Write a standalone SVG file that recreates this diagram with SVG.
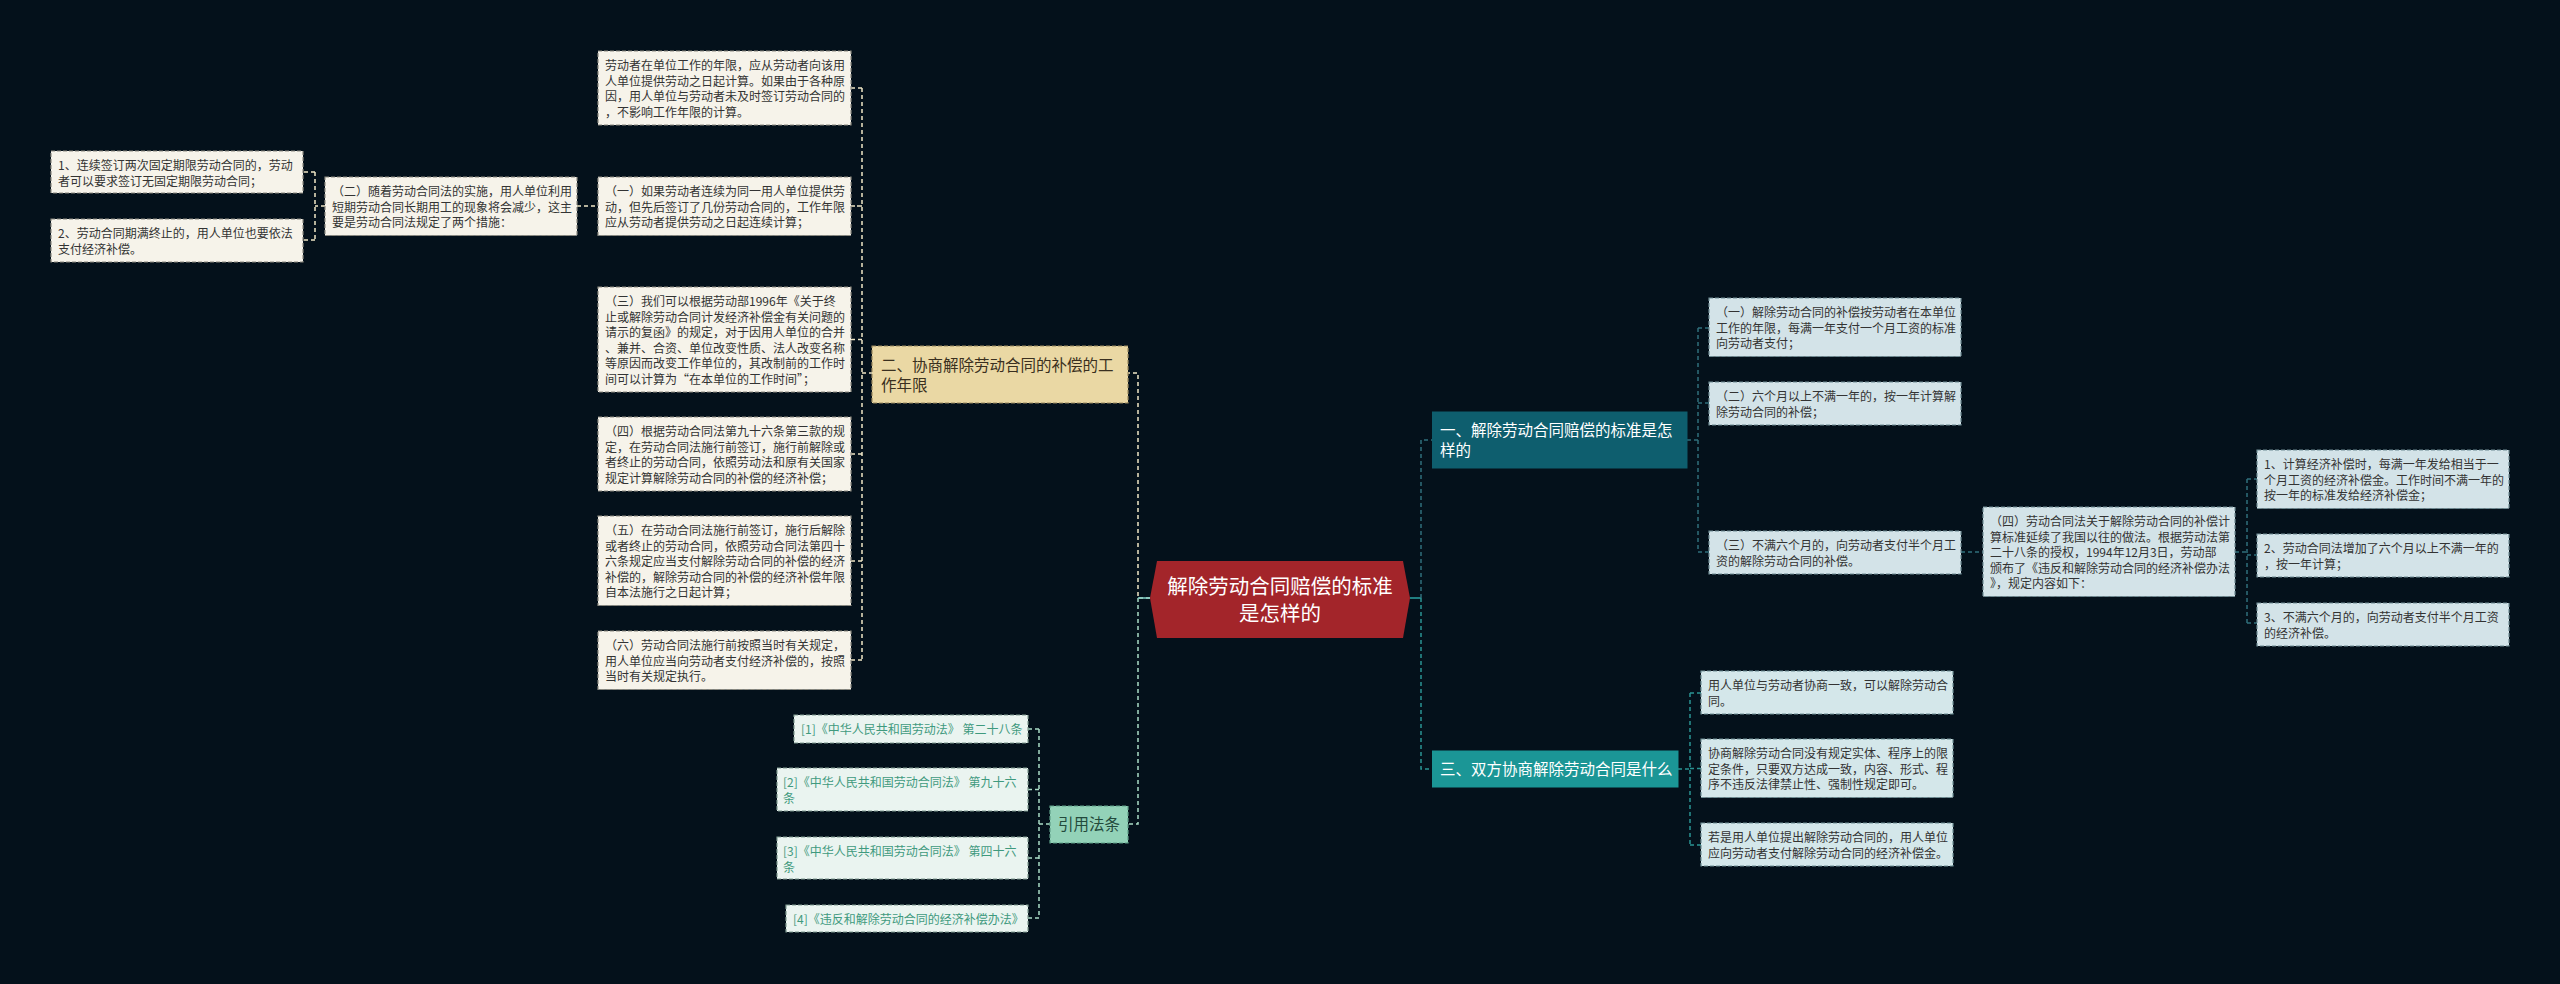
<svg xmlns="http://www.w3.org/2000/svg" width="2560" height="984" viewBox="0 0 2560 984">
<style>
text{font-family:"Noto Sans CJK SC","Microsoft YaHei","Noto Sans",sans-serif;}
.s{font-size:12px;fill:#333;}
.t{font-size:15.5px;}
.cream{fill:#f6f3ea;stroke:#8c8a80;stroke-width:1.2;stroke-dasharray:4 2;}
.tan{fill:#ead8a4;stroke:#9a8a60;stroke-width:1.2;stroke-dasharray:4 2;}
.lb{fill:#d3e3e8;stroke:#6f8c94;stroke-width:1.2;stroke-dasharray:4 2;}
.lc{fill:#d4e7ea;stroke:#6f9096;stroke-width:1.2;stroke-dasharray:4 2;}
.cit{fill:#eaf4f0;stroke:#7f9a90;stroke-width:1.2;stroke-dasharray:4 2;}
.ct{font-size:12px;fill:#3f9a7e;}
.c{fill:none;stroke-width:1.5;stroke-dasharray:4 3;}
.cl{stroke:#efe6c6;}
.cg{stroke:#a9dcc6;}
.cd{stroke:#2f6f7c;}
.cm{stroke:#2a9494;}
</style>
<rect x="0" y="0" width="2560" height="984" fill="#04111b"/>
<g id="connectors">
<path class="c cl" d="M577 206H862M862 88V660M851 88H862M851 206H862M851 339.5H862M851 454H862M851 561H862M851 660H862M862 373H872"/>
<path class="c cl" d="M325 206H315M315 172V240M315 172H303M315 240H303"/>
<path class="c cl" d="M1150 598H1138V373H1128"/>
<path class="c cg" d="M1138 598V824H1128M1050 824H1039M1039 729V918M1039 729H1028M1039 789.5H1028M1039 858H1028M1039 918H1028"/>
<path d="M1138 598H1150" stroke="#7fd0c8" stroke-width="1.5"/>
<path d="M1410 598H1421" stroke="#2aa3a3" stroke-width="1.5"/>
<path class="c cd" d="M1421 598V440H1432.5"/>
<path class="c cm" d="M1421 598V769H1432.5"/>
<path class="c cd" d="M1687 440H1698M1698 328V552M1698 328H1709M1698 403H1709M1698 552H1709M1961 552H1983M2235 552H2247M2247 479V623M2247 479H2257M2247 555H2257M2247 623H2257"/>
<path class="c cm" d="M1678 769H1690M1690 693V845M1690 693H1701M1690 768.5H1701M1690 845H1701"/>
</g>
<g id="root">
<polygon points="1157,561 1403,561 1410,598 1403,638 1157,638 1150,598" fill="#a3252a"/>
<text x="1280" y="594" text-anchor="middle" font-size="20.5" fill="#fff">解除劳动合同赔偿的标准</text>
<text x="1280" y="621" text-anchor="middle" font-size="20.5" fill="#fff">是怎样的</text>
</g>
<g id="n-b2">
<rect class="tan" x="872" y="346" width="256" height="57"/>
<text class="t" fill="#3a3020"><tspan x="881" y="370.5">二、协商解除劳动合同的补偿的工</tspan><tspan x="881" y="390.5">作年限</tspan></text>
</g>
<g id="n-b2a">
<rect class="cream" x="598" y="51" width="253" height="74"/>
<text class="s"><tspan x="605" y="70">劳动者在单位工作的年限，应从劳动者向该用</tspan><tspan x="605" y="85.5">人单位提供劳动之日起计算。如果由于各种原</tspan><tspan x="605" y="101">因，用人单位与劳动者未及时签订劳动合同的</tspan><tspan x="605" y="116.5">，不影响工作年限的计算。</tspan></text>
</g>
<g id="n-b2b">
<rect class="cream" x="598" y="177" width="253" height="58.5"/>
<text class="s"><tspan x="605" y="196">（一）如果劳动者连续为同一用人单位提供劳</tspan><tspan x="605" y="211.5">动，但先后签订了几份劳动合同的，工作年限</tspan><tspan x="605" y="227">应从劳动者提供劳动之日起连续计算；</tspan></text>
</g>
<g id="n-b2c">
<rect class="cream" x="325" y="177" width="252" height="58.5"/>
<text class="s"><tspan x="332" y="196">（二）随着劳动合同法的实施，用人单位利用</tspan><tspan x="332" y="211.5">短期劳动合同长期用工的现象将会减少，这主</tspan><tspan x="332" y="227">要是劳动合同法规定了两个措施：</tspan></text>
</g>
<g id="n-b2c1">
<rect class="cream" x="51" y="151" width="252" height="42"/>
<text class="s"><tspan x="58" y="170">1、连续签订两次固定期限劳动合同的，劳动</tspan><tspan x="58" y="185.5">者可以要求签订无固定期限劳动合同；</tspan></text>
</g>
<g id="n-b2c2">
<rect class="cream" x="51" y="219" width="252" height="43"/>
<text class="s"><tspan x="58" y="238">2、劳动合同期满终止的，用人单位也要依法</tspan><tspan x="58" y="253.5">支付经济补偿。</tspan></text>
</g>
<g id="n-b2d">
<rect class="cream" x="598" y="287" width="253" height="105"/>
<text class="s"><tspan x="605" y="306">（三）我们可以根据劳动部1996年《关于终</tspan><tspan x="605" y="321.5">止或解除劳动合同计发经济补偿金有关问题的</tspan><tspan x="605" y="337">请示的复函》的规定，对于因用人单位的合并</tspan><tspan x="605" y="352.5">、兼并、合资、单位改变性质、法人改变名称</tspan><tspan x="605" y="368">等原因而改变工作单位的，其改制前的工作时</tspan><tspan x="605" y="383.5">间可以计算为“在本单位的工作时间”；</tspan></text>
</g>
<g id="n-b2e">
<rect class="cream" x="598" y="417" width="253" height="74"/>
<text class="s"><tspan x="605" y="436">（四）根据劳动合同法第九十六条第三款的规</tspan><tspan x="605" y="451.5">定，在劳动合同法施行前签订，施行前解除或</tspan><tspan x="605" y="467">者终止的劳动合同，依照劳动法和原有关国家</tspan><tspan x="605" y="482.5">规定计算解除劳动合同的补偿的经济补偿；</tspan></text>
</g>
<g id="n-b2f">
<rect class="cream" x="598" y="516" width="253" height="89.5"/>
<text class="s"><tspan x="605" y="535">（五）在劳动合同法施行前签订，施行后解除</tspan><tspan x="605" y="550.5">或者终止的劳动合同，依照劳动合同法第四十</tspan><tspan x="605" y="566">六条规定应当支付解除劳动合同的补偿的经济</tspan><tspan x="605" y="581.5">补偿的，解除劳动合同的补偿的经济补偿年限</tspan><tspan x="605" y="597">自本法施行之日起计算；</tspan></text>
</g>
<g id="n-b2g">
<rect class="cream" x="598" y="631" width="253" height="58.5"/>
<text class="s"><tspan x="605" y="650">（六）劳动合同法施行前按照当时有关规定，</tspan><tspan x="605" y="665.5">用人单位应当向劳动者支付经济补偿的，按照</tspan><tspan x="605" y="681">当时有关规定执行。</tspan></text>
</g>
<g id="n-cite">
<rect x="1050" y="806" width="78" height="37" fill="#93d2b8" stroke="#5f9f88" stroke-width="1.2" stroke-dasharray="4 2"/>
<text class="t" x="1058" y="830" fill="#234a3c">引用法条</text>
</g>
<g id="n-cite1">
<rect class="cit" x="794" y="715" width="234" height="28"/>
<text class="ct" x="801" y="733.5">[1]《中华人民共和国劳动法》 第二十八条</text>
</g>
<g id="n-cite2">
<rect class="cit" x="777" y="768" width="251" height="43"/>
<text class="ct"><tspan x="783" y="787">[2]《中华人民共和国劳动合同法》 第九十六</tspan><tspan x="783" y="802.5">条</tspan></text>
</g>
<g id="n-cite3">
<rect class="cit" x="777" y="837" width="251" height="42"/>
<text class="ct"><tspan x="783" y="856">[3]《中华人民共和国劳动合同法》 第四十六</tspan><tspan x="783" y="871.5">条</tspan></text>
</g>
<g id="n-cite4">
<rect class="cit" x="786" y="905" width="242" height="27"/>
<text class="ct" x="793" y="923.5">[4]《违反和解除劳动合同的经济补偿办法》</text>
</g>
<g id="n-b1">
<rect x="1432.5" y="412" width="254.5" height="56" fill="#0e5e6e" stroke="#0e5e6e"/>
<text class="t" fill="#fff"><tspan x="1440" y="435.5">一、解除劳动合同赔偿的标准是怎</tspan><tspan x="1440" y="455.5">样的</tspan></text>
</g>
<g id="n-b1a">
<rect class="lb" x="1709" y="298" width="252" height="58.5"/>
<text class="s"><tspan x="1716" y="317">（一）解除劳动合同的补偿按劳动者在本单位</tspan><tspan x="1716" y="332.5">工作的年限，每满一年支付一个月工资的标准</tspan><tspan x="1716" y="348">向劳动者支付；</tspan></text>
</g>
<g id="n-b1b">
<rect class="lb" x="1709" y="382" width="252" height="43"/>
<text class="s"><tspan x="1716" y="401">（二）六个月以上不满一年的，按一年计算解</tspan><tspan x="1716" y="416.5">除劳动合同的补偿；</tspan></text>
</g>
<g id="n-b1c">
<rect class="lb" x="1709" y="531" width="252" height="43"/>
<text class="s"><tspan x="1716" y="550">（三）不满六个月的，向劳动者支付半个月工</tspan><tspan x="1716" y="565.5">资的解除劳动合同的补偿。</tspan></text>
</g>
<g id="n-b1d">
<rect class="lb" x="1983" y="507" width="252" height="89.5"/>
<text class="s"><tspan x="1990" y="526">（四）劳动合同法关于解除劳动合同的补偿计</tspan><tspan x="1990" y="541.5">算标准延续了我国以往的做法。根据劳动法第</tspan><tspan x="1990" y="557">二十八条的授权，1994年12月3日，劳动部</tspan><tspan x="1990" y="572.5">颁布了《违反和解除劳动合同的经济补偿办法</tspan><tspan x="1990" y="588">》，规定内容如下：</tspan></text>
</g>
<g id="n-b1d1">
<rect class="lb" x="2257" y="450" width="252" height="58.5"/>
<text class="s"><tspan x="2264" y="469">1、计算经济补偿时，每满一年发给相当于一</tspan><tspan x="2264" y="484.5">个月工资的经济补偿金。工作时间不满一年的</tspan><tspan x="2264" y="500">按一年的标准发给经济补偿金；</tspan></text>
</g>
<g id="n-b1d2">
<rect class="lb" x="2257" y="534" width="252" height="43"/>
<text class="s"><tspan x="2264" y="553">2、劳动合同法增加了六个月以上不满一年的</tspan><tspan x="2264" y="568.5">，按一年计算；</tspan></text>
</g>
<g id="n-b1d3">
<rect class="lb" x="2257" y="603" width="252" height="43"/>
<text class="s"><tspan x="2264" y="622">3、不满六个月的，向劳动者支付半个月工资</tspan><tspan x="2264" y="637.5">的经济补偿。</tspan></text>
</g>
<g id="n-b3">
<rect x="1432.5" y="751" width="245.5" height="36" fill="#1b9696" stroke="#1b9696"/>
<text class="t" x="1440" y="774.5" fill="#fff">三、双方协商解除劳动合同是什么</text>
</g>
<g id="n-b3a">
<rect class="lc" x="1701" y="671" width="252" height="43"/>
<text class="s"><tspan x="1708" y="690">用人单位与劳动者协商一致，可以解除劳动合</tspan><tspan x="1708" y="705.5">同。</tspan></text>
</g>
<g id="n-b3b">
<rect class="lc" x="1701" y="739" width="252" height="58.5"/>
<text class="s"><tspan x="1708" y="758">协商解除劳动合同没有规定实体、程序上的限</tspan><tspan x="1708" y="773.5">定条件，只要双方达成一致，内容、形式、程</tspan><tspan x="1708" y="789">序不违反法律禁止性、强制性规定即可。</tspan></text>
</g>
<g id="n-b3c">
<rect class="lc" x="1701" y="823" width="252" height="43"/>
<text class="s"><tspan x="1708" y="842">若是用人单位提出解除劳动合同的，用人单位</tspan><tspan x="1708" y="857.5">应向劳动者支付解除劳动合同的经济补偿金。</tspan></text>
</g>
</svg>
